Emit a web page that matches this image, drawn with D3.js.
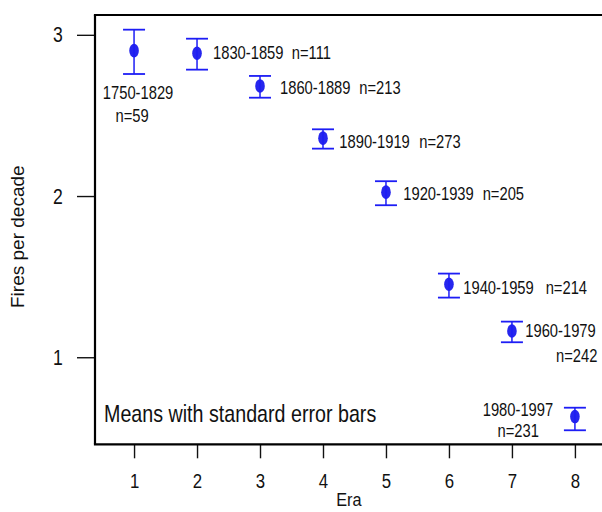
<!DOCTYPE html>
<html>
<head>
<meta charset="utf-8">
<script src="https://cdn.jsdelivr.net/npm/d3@7"></script>
<style>
  html, body { margin: 0; padding: 0; background: #fff; }
  svg { display: block; }
  text { font-family: "Liberation Sans", Arial, sans-serif; fill: #111; }
</style>
</head>
<body>
<svg id="chart" width="602" height="512"></svg>
<script>
// Mean fire frequency per era, with standard-error bounds
const eras     = [1, 2, 3, 4, 5, 6, 7, 8];
const means    = [2.902, 2.886, 2.683, 2.359, 2.024, 1.453, 1.163, 0.632];
const lowerSE  = [2.757, 2.784, 2.610, 2.294, 1.943, 1.370, 1.093, 0.547];
const upperSE  = [3.032, 2.976, 2.745, 2.414, 2.092, 1.519, 1.221, 0.687];
const periods  = ["1750-1829", "1830-1859", "1860-1889", "1890-1919",
                  "1920-1939", "1940-1959", "1960-1979", "1980-1997"];
const counts   = ["n=59", "n=111", "n=213", "n=273", "n=205", "n=214", "n=242", "n=231"];
const xTicks   = [1, 2, 3, 4, 5, 6, 7, 8];
const yTicks   = [1, 2, 3];

// Where each point's period / count text sits relative to the point
const labelPlacement = [
  { pdx: 4,   pdy: 48,   pAnchor: "middle", ndx: -2,   ndy: 71,   nAnchor: "middle" },
  { pdx: 16,  pdy: 6,    pAnchor: "start",  ndx: 94.7, ndy: 6,    nAnchor: "start" },
  { pdx: 20,  pdy: 8.3,  pAnchor: "start",  ndx: 99.3, ndy: 8.3,  nAnchor: "start" },
  { pdx: 16.3,pdy: 10,   pAnchor: "start",  ndx: 96.3, ndy: 10,   nAnchor: "start" },
  { pdx: 17.3,pdy: 7.7,  pAnchor: "start",  ndx: 96.7, ndy: 7.7,  nAnchor: "start" },
  { pdx: 14.3,pdy: 9.7,  pAnchor: "start",  ndx: 96.7, ndy: 9.7,  nAnchor: "start" },
  { pdx: 13.3,pdy: 6.3,  pAnchor: "start",  ndx: 44,   ndy: 30.7, nAnchor: "start" },
  { pdx: -21.7,pdy: -0.7,pAnchor: "end",    ndx: -56.7,ndy: 20,   nAnchor: "middle" }
];

const svg = d3.select("#chart");
const plotLeft = 95, plotRight = 602, plotTop = 15, plotBottom = 444.3;
const SQ = 0.82; // horizontal squeeze used for all chart lettering

const x = d3.scaleLinear().domain([0.38, 8.43]).range([plotLeft, plotRight]);
const y = d3.scaleLinear().domain([0.46, 3.123]).range([plotBottom, plotTop]);

// draw a squeezed text element anchored at (px, py)
function label(g, px, py, str, size, anchor, sx) {
  return g.append("text")
    .attr("transform", `translate(${px},${py}) scale(${sx},1)`)
    .attr("text-anchor", anchor)
    .style("font-size", size + "px")
    .text(str);
}

// axes
const yAxis = svg.append("g")
  .attr("transform", `translate(${plotLeft},0)`)
  .call(d3.axisLeft(y).tickValues(yTicks).tickFormat(d3.format("d")).tickSize(18).tickPadding(14.3));
const xAxis = svg.append("g")
  .attr("transform", `translate(0,${plotBottom})`)
  .call(d3.axisBottom(x).tickValues(xTicks).tickFormat(d3.format("d")).tickSize(14).tickPadding(15));

[yAxis, xAxis].forEach(ax => {
  ax.select(".domain").remove();
  ax.selectAll(".tick line").attr("stroke", "#111").attr("stroke-width", 1.4);
  ax.selectAll(".tick text")
    .attr("fill", "#111")
    .style("font-family", "'Liberation Sans', Arial, sans-serif");
});
yAxis.selectAll(".tick text")
  .style("font-size", "22px")
  .each(function () {
    const t = d3.select(this);
    t.attr("x", +t.attr("x") / 0.8).attr("transform", "scale(0.8,1)");
  });
xAxis.selectAll(".tick text")
  .style("font-size", "21px")
  .attr("transform", "scale(0.8,1)");

// frame: left, top and bottom rules
const frame = svg.append("g").attr("stroke", "#000").attr("stroke-width", 2.2).attr("fill", "none");
frame.append("line").attr("x1", plotLeft).attr("x2", plotLeft).attr("y1", plotTop).attr("y2", plotBottom);
frame.append("line").attr("x1", plotLeft - 1.1).attr("x2", plotRight).attr("y1", plotTop).attr("y2", plotTop);
frame.append("line").attr("x1", plotLeft - 1.1).attr("x2", plotRight).attr("y1", plotBottom).attr("y2", plotBottom);

// error bars and means
const capHalf = 11;
const marks = svg.append("g");
eras.forEach((e, i) => {
  const cx = x(e);
  const g = marks.append("g");
  g.append("ellipse")
    .attr("cx", cx).attr("cy", y(means[i]))
    .attr("rx", 4.8).attr("ry", 6.8)
    .attr("fill", "#2626ee");
  g.append("line")
    .attr("x1", cx).attr("x2", cx)
    .attr("y1", y(upperSE[i])).attr("y2", y(lowerSE[i]))
    .attr("stroke", "#1d1df5").attr("stroke-width", 1.5);
  [upperSE[i], lowerSE[i]].forEach(v => {
    g.append("line")
      .attr("x1", cx - capHalf).attr("x2", cx + capHalf)
      .attr("y1", y(v)).attr("y2", y(v))
      .attr("stroke", "#1d1df5").attr("stroke-width", 1.8);
  });
});

// period and sample-size annotations
const notes = svg.append("g");
eras.forEach((e, i) => {
  const px = x(e), py = y(means[i]);
  const p = labelPlacement[i];
  label(notes, px + p.pdx, py + p.pdy, periods[i], 18, p.pAnchor, SQ);
  label(notes, px + p.ndx, py + p.ndy, counts[i], 18, p.nAnchor, SQ);
});

// caption inside the plot
label(svg, 104, 421.7, "Means with standard error bars", 24, "start", SQ);

// axis titles
label(svg, 348.8, 506, "Era", 18.5, "middle", 0.88);
svg.append("text")
  .attr("transform", "translate(23.5,236.7) rotate(-90)")
  .attr("text-anchor", "middle")
  .style("font-size", "19px")
  .text("Fires per decade");
</script>
</body>
</html>
